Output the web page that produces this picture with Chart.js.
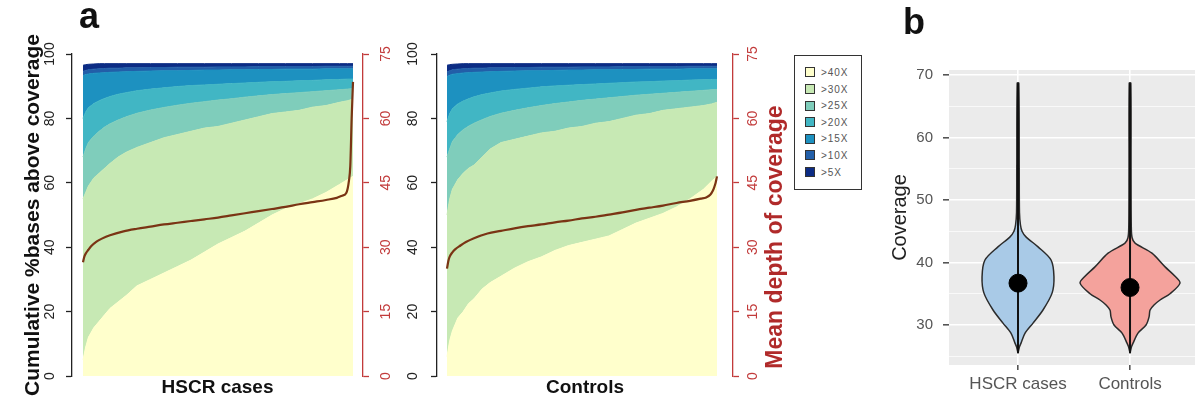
<!DOCTYPE html>
<html>
<head>
<meta charset="utf-8">
<script src="https://cdn.jsdelivr.net/npm/chart.js@4.4.1/dist/chart.umd.min.js"></script>
<style>
  html, body { margin:0; padding:0; background:#fff; }
  body { width:1195px; height:406px; position:relative; overflow:hidden; font-family:"Liberation Sans", Arial, sans-serif; }
  canvas { position:absolute; top:0; }
  #c1 { left:0; } #c2 { left:400px; } #c3 { left:870px; }
  .tag { position:absolute; font-weight:bold; line-height:1; color:#111; font-family:"Liberation Sans", Arial, sans-serif; }
  #legend { position:absolute; left:794px; top:55px; width:68px; height:135px; box-sizing:border-box; border:1.5px solid #333; background:#fff; }
  .item { position:absolute; left:10px; height:12px; font-size:10px; letter-spacing:0.9px; line-height:12px; color:#555; white-space:nowrap; }
  .sw { display:inline-block; width:8px; height:8px; border:1px solid #333; vertical-align:middle; margin-right:6px; position:relative; top:-1px; }
</style>
</head>
<body>
<canvas id="c1" width="400" height="406"></canvas>
<canvas id="c2" width="390" height="406"></canvas>
<canvas id="c3" width="325" height="406"></canvas>
<div class="tag" style="left:79px;top:-2px;font-size:36px;">a</div>
<div class="tag" style="left:903px;top:4px;font-size:36px;">b</div>
<div id="legend"></div>
<script>
// ---------------- DATA ----------------
// sample rank (percent of samples, sorted by mean depth)
const sampleRank = [0,1,2,4,6,8,10,13,16,20,25,30,35,40,45,50,55,60,65,70,75,80,85,90,95,98,100];
const coverageThresholds = ['>40X','>30X','>25X','>20X','>15X','>10X','>5X'];

// HSCR cases: cumulative % bases above each coverage
const casesAbove40 = [5,9,12,15,17,19,21,23,25,28,30,32,34,36,38.5,41,43,45,47.5,50,52,53.5,55,57,59.5,61,62];
const casesAbove30 = [55,57,59,61.5,63,64.5,66,68,69.5,71,72.5,74,75,76,77,77.5,78.5,79.5,80.5,81.5,82,82.5,83.5,84,85,85.5,86];
const casesAbove25 = [68,70.5,72.5,74.5,76,77.3,78.3,79.5,80.5,81.6,82.6,83.4,84.1,84.7,85.2,85.7,86.1,86.6,87,87.4,87.7,88,88.3,88.6,88.9,89.1,89.2];
const casesAbove20 = [80,82,83.3,84.6,85.5,86.2,86.8,87.5,88,88.6,89.1,89.5,89.9,90.2,90.4,90.6,90.8,91,91.2,91.4,91.5,91.7,91.8,92,92.1,92.2,92.2];
const casesAbove15 = [93.3,93.6,93.8,94,94.1,94.2,94.3,94.4,94.5,94.6,94.7,94.8,94.8,94.9,95,95,95.1,95.1,95.2,95.2,95.3,95.3,95.3,95.4,95.4,95.4,95.4];
const casesAbove10 = [94.6,94.9,95.1,95.3,95.4,95.5,95.6,95.6,95.7,95.7,95.8,95.8,95.9,95.9,95.9,96,96,96,96.1,96.1,96.1,96.1,96.1,96.2,96.2,96.2,96.2];
const casesAbove5  = [96.5,96.7,96.8,96.9,97,97,97,97,97,97,97,97,97,97,97,97,97,97,97,97,97,97,97,97,97,97,97];

// Controls
const ctrlAbove40 = [6,11,14,18,20,22.5,24,27,29,31,33.5,35.5,37,39,40.5,41.5,42.5,43.5,45.5,47.5,49,50.5,52.5,55,58,60.5,62];
const ctrlAbove30 = [50,55,58,61,63,64.5,65.5,68,70.5,72.5,73.5,74.5,75.5,76,77,77.5,78.5,79,80,81,81.5,82.5,83,83.5,84,84.5,85];
const ctrlAbove25 = [68,70.5,72.8,75,76.5,77.6,78.5,79.6,80.6,81.6,82.5,83.3,84,84.6,85.1,85.6,86,86.4,86.8,87.2,87.5,87.8,88.1,88.4,88.7,88.9,89];
const ctrlAbove20 = [79,81.5,83,84.5,85.4,86.1,86.7,87.4,87.9,88.5,89,89.4,89.8,90.1,90.3,90.5,90.7,90.9,91.1,91.3,91.4,91.6,91.7,91.9,92,92.1,92.1];
const ctrlAbove15 = [93,93.4,93.7,93.9,94.1,94.2,94.3,94.4,94.5,94.6,94.7,94.8,94.8,94.9,95,95,95.1,95.1,95.2,95.2,95.3,95.3,95.3,95.4,95.4,95.4,95.4];
const ctrlAbove10 = [94.4,94.8,95.1,95.3,95.4,95.5,95.6,95.6,95.7,95.7,95.8,95.8,95.9,95.9,95.9,96,96,96,96.1,96.1,96.1,96.1,96.1,96.2,96.2,96.2,96.2];
const ctrlAbove5  = [96.5,96.7,96.8,96.9,97,97,97,97,97,97,97,97,97,97,97,97,97,97,97,97,97,97,97,97,97,97,97];

// Mean depth of coverage per sample (right axis)
const depthRank = [0,0.5,1,2,3,5,7,10,15,20,25,30,35,40,45,50,55,60,65,70,75,80,85,90,94,96,97.5,98.5,99,99.5,100];
const casesDepth = [26.5,27.8,28.5,29.4,30.2,31.3,32.0,32.8,33.7,34.3,34.8,35.3,35.7,36.1,36.5,36.9,37.4,37.9,38.4,38.9,39.4,40.0,40.5,41.0,41.5,42.0,42.6,45.5,49,60,68.5];
const ctrlDepth  = [25,26.8,27.8,28.8,29.5,30.4,31.2,32.1,33.2,33.8,34.4,34.9,35.3,35.8,36.2,36.7,37.1,37.6,38.1,38.7,39.2,39.7,40.3,40.8,41.3,41.6,42.2,43.2,44.0,45.0,46.5];

const pctTicks = [0,20,40,60,80,100];
const depthTicks = [0,15,30,45,60,75];

// Panel b: violins
const groupLabels = ['HSCR cases','Controls'];
const casesViolinY    = [25.5,26.5,27.1,28.7,30.3,32.4,35.1,37.7,40.4,42.5,44.1,45,46,48,55,68.7];
const casesViolinHalf = [0,0.013,0.027,0.063,0.134,0.223,0.304,0.321,0.295,0.179,0.071,0.036,0.022,0.013,0.011,0.007];
const ctrlViolinY     = [25.5,26.5,27.1,28.7,30.0,31.3,32.4,33.2,34.0,35.0,36.7,37.8,39.3,41.5,43.1,44,46,55,68.7];
const ctrlViolinHalf  = [0,0.013,0.027,0.071,0.143,0.17,0.179,0.214,0.268,0.357,0.446,0.402,0.313,0.196,0.045,0.018,0.011,0.009,0.007];
const groupMedians = [36.7, 36.0];
const groupRanges  = [[25.5,68.7],[25.5,68.7]];
const coverageTicks = [25,30,35,40,45,50,55,60,65,70];

// ---------------- STYLE ----------------
const layerColors = ['#ffffcc','#c7e9b4','#7fcdbb','#41b6c4','#1d91c0','#225ea8','#0c2c84'];
const RED = '#c23b3b';
const FONT = '"Liberation Sans", Arial, sans-serif';
const H = Chart.helpers;

// legend (HTML)
const lg = document.getElementById('legend');
coverageThresholds.forEach((t,i)=>{
  const d = document.createElement('div');
  d.className = 'item';
  d.style.top = (11 + i*16.6) + 'px';
  d.innerHTML = '<span class="sw" style="background:'+layerColors[i]+'"></span>' + t.replace('>','&gt;');
  lg.appendChild(d);
});

// R-style rotated tick labels and titles for vertical axes
function rotatedLabels() {
  const s = this, ctx = s.ctx, o = s.options.ticks;
  if (!o.display) return;
  const font = H.toFont(o.font);
  const tl = s.options.grid.tickLength;
  const x = s.position === 'left' ? s.right - tl - o.padding - font.size/2 : s.left + tl + o.padding + font.size/2;
  ctx.save();
  ctx.font = font.string; ctx.fillStyle = o.color; ctx.textAlign = 'center'; ctx.textBaseline = 'middle';
  for (const t of s.ticks) {
    const y = s.getPixelForValue(t.value);
    ctx.save(); ctx.translate(x, y); ctx.rotate(-Math.PI/2); ctx.fillText(t.label, 0, 0); ctx.restore();
  }
  ctx.restore();
}
function rotatedTitle() {
  const s = this, ctx = s.ctx, t = s.options.title;
  if (!t.display) return;
  const font = H.toFont(t.font);
  const pad = H.toPadding(t.padding);
  const x = s.position === 'left' ? s.left + pad.top + font.lineHeight/2 : s.right - pad.top - font.lineHeight/2;
  const y = (s.top + s.bottom)/2 + pad.bottom;
  ctx.save();
  ctx.font = font.string; ctx.fillStyle = t.color; ctx.textAlign = 'center'; ctx.textBaseline = 'middle';
  ctx.translate(x, y); ctx.rotate(-Math.PI/2); ctx.fillText(t.text, 0, 0);
  ctx.restore();
}
const rAxes = { id:'rAxes', afterUpdate(chart) {
  ['y','y2'].forEach(id => { const s = chart.scales[id]; if (s) { s.drawLabels = rotatedLabels; s.drawTitle = rotatedTitle; } });
}};

function panelA(canvasId, layers, depth, xTitle, geom) {
  const datasets = layers.map((vals, i) => ({
    label: coverageThresholds[i],
    data: sampleRank.map((r, j) => ({x: r, y: vals[j]})),
    yAxisID: 'y',
    backgroundColor: layerColors[i], borderColor: layerColors[i], borderWidth: 1,
    fill: i === 0 ? 'origin' : '-1', pointRadius: 0, tension: 0, order: 2
  }));
  datasets.push({
    label: 'Mean depth of coverage',
    data: depthRank.map((r, j) => ({x: r, y: depth[j]})),
    yAxisID: 'y2', borderColor: '#7a3414', borderWidth: 2.2, fill: false,
    pointRadius: 0, cubicInterpolationMode: 'monotone', order: 1
  });
  return new Chart(document.getElementById(canvasId), {
    type: 'line',
    data: { datasets },
    plugins: [rAxes],
    options: {
      responsive: false, animation: false, devicePixelRatio: 1,
      layout: { autoPadding: false, padding: { top: 54, left: 0, right: 0, bottom: 0 } },
      plugins: { legend: { display: false }, tooltip: { enabled: false } },
      scales: {
        x: { type: 'linear', min: geom.xmin, max: geom.xmax,
             grid: { display: false }, border: { display: false }, ticks: { display: false },
             title: { display: true, text: xTitle, color: '#111', font: { family: FONT, size: 19, weight: 'bold' }, padding: { top: 0, bottom: 7 } },
             afterFit(s) { s.height = 30; s.paddingLeft = 0; s.paddingRight = 0; } },
        y: { position: 'left', min: 0, max: 100,
             afterBuildTicks(s) { s.ticks = pctTicks.map(v => ({value: v})); },
             ticks: { color: '#222', font: { family: FONT, size: 14 }, padding: geom.yPad },
             grid: { drawOnChartArea: false, drawTicks: true, tickLength: 6, color: '#222', tickWidth: 1.3 },
             border: { display: true, color: '#222', width: 1.3 },
             title: geom.yTitle ? { display: true, text: geom.yTitle, color: '#111', font: { family: FONT, size: 21, weight: 'bold' }, padding: { top: 21, bottom: 0 } } : { display: false },
             afterFit(s) { s.width = geom.yWidth; } },
        y2: { position: 'right', min: 0, max: 75,
             afterBuildTicks(s) { s.ticks = depthTicks.map(v => ({value: v})); },
             ticks: { color: RED, font: { family: FONT, size: 14 }, padding: geom.y2Pad },
             grid: { drawOnChartArea: false, drawTicks: true, tickLength: 6, color: RED, tickWidth: 1.3 },
             border: { display: true, color: RED, width: 1.3 },
             title: geom.y2Title ? { display: true, text: geom.y2Title, color: '#b02a2a', font: { family: FONT, size: 23, weight: 'bold' }, padding: { top: 1, bottom: 22 } } : { display: false },
             afterFit(s) { s.width = geom.y2Width; } }
      }
    }
  });
}

panelA('c1', [casesAbove40, casesAbove30, casesAbove25, casesAbove20, casesAbove15, casesAbove10, casesAbove5],
  casesDepth, 'HSCR cases',
  { xmin: -4.07, xmax: 103.7, yWidth: 72, y2Width: 37, yPad: 9, y2Pad: 10, yTitle: 'Cumulative %bases above coverage' });
panelA('c2', [ctrlAbove40, ctrlAbove30, ctrlAbove25, ctrlAbove20, ctrlAbove15, ctrlAbove10, ctrlAbove5],
  ctrlDepth, 'Controls',
  { xmin: -3.7, xmax: 105.93, yWidth: 37, y2Width: 57, yPad: 11, y2Pad: 7, y2Title: 'Mean depth of coverage' });

// ---------------- Panel b ----------------
function violinOutline(center, ys, halfs) {
  const left = ys.map((y, i) => ({x: center - halfs[i], y}));
  const right = ys.map((y, i) => ({x: center + halfs[i], y})).reverse();
  return left.concat(right);
}
const panelBg = { id: 'panelBg', beforeDraw(chart) {
  const {ctx, chartArea: a} = chart;
  ctx.save(); ctx.fillStyle = '#ebebeb'; ctx.fillRect(a.left, a.top, a.right - a.left, a.bottom - a.top); ctx.restore();
}};
new Chart(document.getElementById('c3'), {
  type: 'line',
  data: { datasets: [
    { label: groupLabels[0], data: violinOutline(1, casesViolinY, casesViolinHalf), fill: 'shape',
      backgroundColor: '#a9cae7', borderColor: '#2b2b2b', borderWidth: 1.5, pointRadius: 0, tension: 0.3, order: 3 },
    { label: groupLabels[1], data: violinOutline(2, ctrlViolinY, ctrlViolinHalf), fill: 'shape',
      backgroundColor: '#f4a29c', borderColor: '#2b2b2b', borderWidth: 1.5, pointRadius: 0, tension: 0.3, order: 3 },
    { label: 'range1', data: groupRanges[0].map(y => ({x: 1, y})), borderColor: '#111', borderWidth: 2, pointRadius: 0, fill: false, order: 2 },
    { label: 'range2', data: groupRanges[1].map(y => ({x: 2, y})), borderColor: '#111', borderWidth: 2, pointRadius: 0, fill: false, order: 2 },
    { label: 'median', data: groupMedians.map((y, i) => ({x: i + 1, y})), showLine: false, pointRadius: 9,
      pointBackgroundColor: '#000', pointBorderColor: '#000', order: 1 }
  ]},
  plugins: [panelBg],
  options: {
    responsive: false, animation: false, devicePixelRatio: 1,
    layout: { autoPadding: false, padding: { top: 70, left: 0, right: 0, bottom: 0 } },
    plugins: { legend: { display: false }, tooltip: { enabled: false } },
    scales: {
      x: { type: 'linear', min: 0.384, max: 2.58,
           afterBuildTicks(s) { s.ticks = [{value: 1}, {value: 2}]; },
           ticks: { callback: (v, i) => groupLabels[i], color: '#555', font: { family: FONT, size: 17 }, padding: 4, maxRotation: 0, autoSkip: false },
           grid: { color: '#ffffff', lineWidth: 1.6, tickColor: '#555', tickLength: 5, drawTicks: true },
           border: { display: false },
           afterFit(s) { s.height = 41; s.paddingLeft = 0; s.paddingRight = 0; } },
      y: { min: 23.6, max: 70.8,
           afterBuildTicks(s) { s.ticks = coverageTicks.map(v => ({value: v})); },
           ticks: { callback: v => (v % 10 === 0 ? String(v) : ''), color: '#555', font: { family: FONT, size: 15 }, padding: 10 },
           grid: { color: '#ffffff',
                   lineWidth: c => (c.tick && c.tick.value % 10 === 0 ? 1.6 : 0.7),
                   tickColor: c => (c.tick && c.tick.value % 10 === 0 ? '#555' : 'rgba(0,0,0,0)'),
                   tickLength: 6, drawTicks: true },
           border: { display: false },
           title: { display: true, text: 'Coverage', color: '#222', font: { family: FONT, size: 20 }, padding: { top: 18 } },
           afterFit(s) { s.width = 79; s.paddingTop = 0; s.paddingBottom = 0; } }
    }
  }
});
</script>
</body>
</html>
